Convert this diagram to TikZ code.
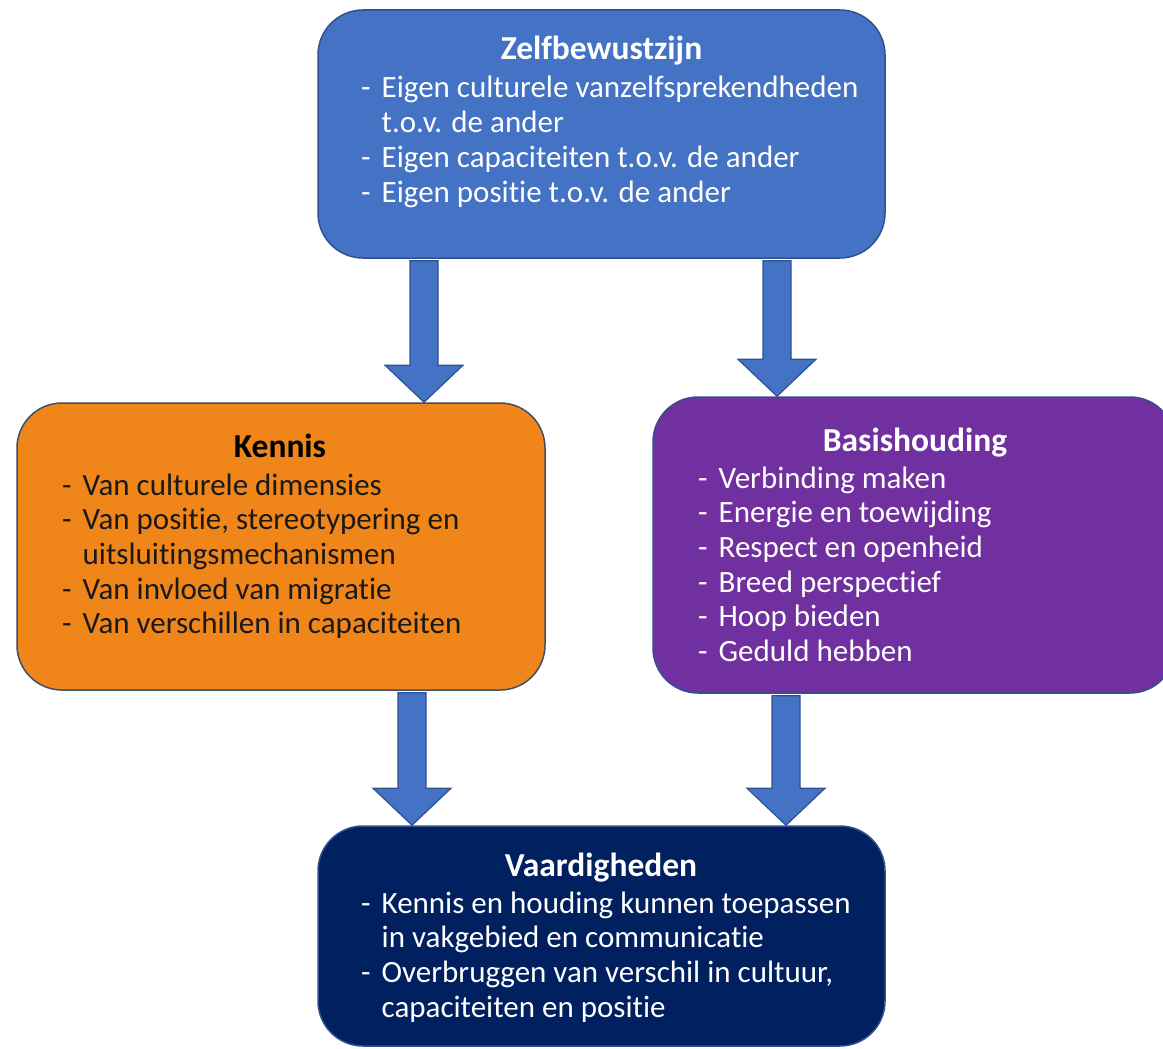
\documentclass[tikz,border=0pt]{standalone}
\usepackage{fontspec}
\setmainfont[Ligatures=NoCommon]{Carlito}
\usetikzlibrary{calc}
\definecolor{cTop}{HTML}{4472C4}
\definecolor{cEdge}{HTML}{2F528F}
\definecolor{cKen}{HTML}{F0861A}
\definecolor{cKenEdge}{HTML}{3E4E66}
\definecolor{cBas}{HTML}{7030A0}
\definecolor{cVaa}{HTML}{002060}
\begin{document}
\begin{tikzpicture}[x=1pt,y=-1pt,
  boxshape/.style={draw=cEdge, line width=1.5pt, rounded corners=45pt, inner sep=0pt},
  titletext/.style={anchor=base, inner sep=0pt, font=\fontsize{33.5}{36}\selectfont\bfseries},
  listtext/.style={anchor=base west, inner sep=0pt, font=\fontsize{31}{34.7}\selectfont},
  blockarrow/.style={fill=cTop, draw=cEdge, line width=1.2pt, line join=miter,
    to path={let \p1=(\tikztostart), \p2=(\tikztotarget) in
      (\x1-14pt,\y1) -- (\x1-14pt,\y2+37pt) -- (\x1-39pt,\y2+37pt) -- (\x1,\y2)
      -- (\x1+39pt,\y2+37pt) -- (\x1+14pt,\y2+37pt) -- (\x1+14pt,\y1) -- cycle}}
]
\useasboundingbox (0,0) rectangle (1163,1049);

% boxes
\node[boxshape, fill=cTop, minimum width=567pt, minimum height=248pt] (top) at (601.5,134) {};
\node[boxshape, fill=cKen, draw=cKenEdge, minimum width=528pt, minimum height=287pt] (ken) at (281,546.5) {};
\node[boxshape, fill=cBas, minimum width=522pt, minimum height=296pt] (bas) at (914,545) {};
\node[boxshape, fill=cVaa, minimum width=567pt, minimum height=220pt] (vaa) at (601.5,936) {};

% arrows
\coordinate (a1s) at ([xshift=-177.5pt,yshift=-2pt]top.south);
\coordinate (a1e) at ([xshift=143pt]ken.north);
\coordinate (a2s) at ([xshift=175.5pt,yshift=-2pt]top.south);
\coordinate (a2e) at ([xshift=-137pt]bas.north);
\coordinate (a3s) at ([xshift=131pt,yshift=-2pt]ken.south);
\coordinate (a3e) at ([xshift=-189.5pt]vaa.north);
\coordinate (a4s) at ([xshift=-128pt,yshift=-2pt]bas.south);
\coordinate (a4e) at ([xshift=184.5pt]vaa.north);
\draw[blockarrow] (a1s) to (a1e);
\draw[blockarrow] (a2s) to (a2e);
\draw[blockarrow] (a3s) to (a3e);
\draw[blockarrow] (a4s) to (a4e);

% texts
\node[titletext, text=white] (topT) at (601.5,60) {Zelfbewustzijn};
\node[listtext, text=white] (topL) at (361,98) {\begin{tabular}[t]{@{}l@{\hspace{11pt}}l@{}}
-& Eigen culturele vanzelfsprekendheden\\
 & t.o.v. de ander\\
-& Eigen capaciteiten t.o.v. de ander\\
-& Eigen positie t.o.v. de ander
\end{tabular}};

\node[titletext, text=black] (kenT) at (280,457) {Kennis};
\node[listtext, text=black!90] (kenL) at (62,495) {\begin{tabular}[t]{@{}l@{\hspace{11pt}}l@{}}
-& Van culturele dimensies\\
-& Van positie, stereotypering en\\
 & uitsluitingsmechanismen\\
-& Van invloed van migratie\\
-& Van verschillen in capaciteiten
\end{tabular}};

\node[titletext, text=white] (basT) at (915,451) {Basishouding};
\node[listtext, text=white] (basL) at (698,488) {\begin{tabular}[t]{@{}l@{\hspace{11pt}}l@{}}
-& Verbinding maken\\
-& Energie en toewijding\\
-& Respect en openheid\\
-& Breed perspectief\\
-& Hoop bieden\\
-& Geduld hebben
\end{tabular}};

\node[titletext, text=white] (vaaT) at (601,876) {Vaardigheden};
\node[listtext, text=white] (vaaL) at (361,913) {\begin{tabular}[t]{@{}l@{\hspace{11pt}}l@{}}
-& Kennis en houding kunnen toepassen\\
 & in vakgebied en communicatie\\
-& Overbruggen van verschil in cultuur,\\
 & capaciteiten en positie
\end{tabular}};
\end{tikzpicture}
\end{document}
